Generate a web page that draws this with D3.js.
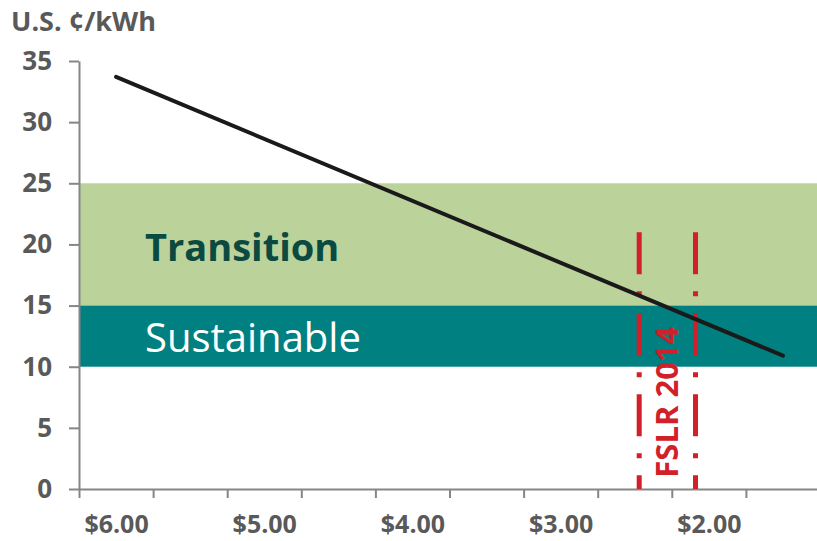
<!DOCTYPE html>
<html>
<head>
<meta charset="utf-8">
<script src="https://cdn.jsdelivr.net/npm/d3@7"></script>
<style>
  body { margin: 0; background: #fff; }
  svg { display: block; font-family: "Open Sans", sans-serif; }
</style>
</head>
<body>
<svg id="chart"></svg>
<script>
/* CONSTANTS AND GLOBALS */
const width = 817,
  height = 541,
  margin = { top: 61, bottom: 52, left: 79, right: -3 };

// data
const priceLabels = [6.0, 5.0, 4.0, 3.0, 2.0];           // $/W, labelled ticks
const priceTicks = [6.25, 5.75, 5.25, 4.75, 4.25, 3.75, 3.25, 2.75, 2.25, 1.75, 1.25];
const yTicks = [0, 5, 10, 15, 20, 25, 30, 35];
const costPrice = [6.0, 1.5];                              // line end points ($/W)
const costValue = [33.7, 10.9];                            // U.S. cents/kWh
const bandNames = ["Transition", "Sustainable"];
const bandLow = [15, 10];
const bandHigh = [25, 15];
const fslrPrice = [2.47, 2.09];                            // FSLR 2014 bounds
const fslrTop = 21;

const svg = d3.select("#chart")
  .attr("width", width)
  .attr("height", height);

/* SCALES */
const xScale = d3.scaleLinear()
  .domain([6.25, 1.25])
  .range([margin.left, width - margin.right]);

const yScale = d3.scaleLinear()
  .domain([0, 35])
  .range([height - margin.bottom, margin.top]);

/* BANDS */
const bandFill = ["#bbd29b", "#008080"];
const bands = bandNames.map((n, i) => ({ name: n, lo: bandLow[i], hi: bandHigh[i], fill: bandFill[i] }));

svg.selectAll(".band")
  .data(bands)
  .join("rect")
  .attr("class", "band")
  .attr("x", xScale(6.25))
  .attr("width", xScale(1.25) - xScale(6.25))
  .attr("y", d => yScale(d.hi))
  .attr("height", d => yScale(d.lo) - yScale(d.hi))
  .attr("fill", d => d.fill);

svg.append("text")
  .attr("x", 145)
  .attr("y", 261)
  .attr("fill", "#0b4a40")
  .attr("font-size", 38)
  .attr("font-weight", "bold")
  .text(bandNames[0]);

svg.append("text")
  .attr("x", 145)
  .attr("y", 352)
  .attr("fill", "#ffffff")
  .attr("font-size", 40)
  .text(bandNames[1]);

/* AXES */
const axisColor = "#868686";
const labelColor = "#595959";

const yAxisGroup = svg.append("g")
  .attr("transform", `translate(${margin.left}, 0)`)
  .call(d3.axisLeft(yScale).tickValues(yTicks).tickSize(10).tickSizeOuter(0).tickPadding(17));

const xTickGroup = svg.append("g")
  .attr("transform", `translate(0, ${height - margin.bottom})`)
  .call(d3.axisBottom(xScale).tickValues(priceTicks).tickSize(9).tickSizeOuter(0).tickFormat(""));

const xLabelGroup = svg.append("g")
  .attr("transform", `translate(0, ${height - margin.bottom})`)
  .call(d3.axisBottom(xScale).tickValues(priceLabels).tickSize(0).tickPadding(26)
    .tickFormat(d => "$" + d3.format(".2f")(d)));
xLabelGroup.select(".domain").remove();

[yAxisGroup, xTickGroup].forEach(g => {
  g.selectAll(".domain, line").attr("stroke", axisColor).attr("stroke-width", 2);
});
[yAxisGroup, xLabelGroup].forEach(g => {
  g.selectAll("text")
    .attr("fill", labelColor)
    .attr("font-size", 25)
    .attr("font-weight", "bold")
    .attr("font-family", "Open Sans, sans-serif");
});
yAxisGroup.selectAll("text").attr("font-size", 26);

svg.append("text")
  .attr("x", 11)
  .attr("y", 31)
  .attr("fill", labelColor)
  .attr("font-size", 27)
  .attr("font-weight", "bold")
  .text("U.S. ¢/kWh");

/* FSLR 2014 dash-dot markers */
svg.selectAll(".fslr")
  .data(fslrPrice)
  .join("line")
  .attr("class", "fslr")
  .attr("x1", d => xScale(d))
  .attr("x2", d => xScale(d))
  .attr("y1", yScale(fslrTop))
  .attr("y2", yScale(0))
  .attr("stroke", "#d2202a")
  .attr("stroke-width", 5)
  .attr("stroke-dasharray", "42 17 5 17");

svg.append("text")
  .attr("transform", `translate(${(xScale(fslrPrice[0]) + xScale(fslrPrice[1])) / 2 + 11}, ${yScale(7.1)}) rotate(-90)`)
  .attr("text-anchor", "middle")
  .attr("fill", "#d2202a")
  .attr("font-size", 31)
  .attr("font-weight", "bold")
  .text("FSLR 2014");

/* COST LINE */
const lineGen = d3.line()
  .x(d => xScale(d[0]))
  .y(d => yScale(d[1]));

svg.append("path")
  .datum(costPrice.map((p, i) => [p, costValue[i]]))
  .attr("fill", "none")
  .attr("stroke", "#1a1a1a")
  .attr("stroke-width", 4)
  .attr("stroke-linecap", "round")
  .attr("d", lineGen);
</script>
</body>
</html>
